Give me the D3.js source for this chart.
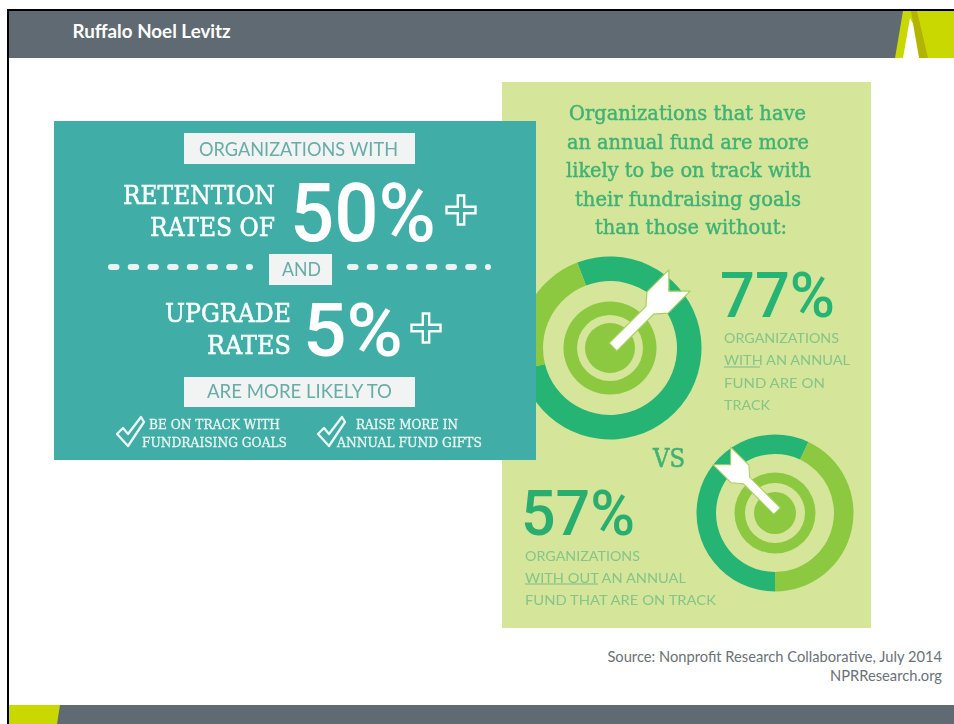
<!DOCTYPE html>
<html>
<head>
<meta charset="utf-8">
<title>Ruffalo Noel Levitz</title>
<script src="https://cdn.jsdelivr.net/npm/d3@7"></script>
<style>
  html, body { margin: 0; background: #fff; }
  svg { display: block; }
</style>
</head>
<body>
<svg id="slide" width="954" height="724"></svg>
<script>
// Slide content
const slideTitle = "Ruffalo Noel Levitz";
const sourceLines = ["Source: Nonprofit Research Collaborative, July 2014", "NPRResearch.org"];

// Retention and upgrade thresholds
const retentionRate = 50;
const upgradeRate = 5;
const retentionLabel = ["RETENTION", "RATES OF"];
const upgradeLabel = ["UPGRADE", "RATES"];
const benefitOne = ["BE ON TRACK WITH", "FUNDRAISING GOALS"];
const benefitTwo = ["RAISE MORE IN", "ANNUAL FUND GIFTS"];

// Annual fund comparison: share on track, share not on track
const withFund = [77, 23];
const withoutFund = [57, 43];
const fundHeading = [
  "Organizations that have",
  "an annual fund are more",
  "likely to be on track with",
  "their fundraising goals",
  "than those without:"
];
const withFundNote = ["ORGANIZATIONS", "WITH AN ANNUAL", "FUND ARE ON", "TRACK"];
const withoutFundNote = ["ORGANIZATIONS", "WITH OUT AN ANNUAL", "FUND THAT ARE ON TRACK"];

const SLAB = "'DejaVu Serif', serif";
const ROUND = "Lato, sans-serif";
const FIGURE = "Roboto, sans-serif";
const DARK_GREEN = "#25b475";
const LIGHT_GREEN = "#8cc83f";
const LIME = "#c8d800";
const SLATE = "#5f6a72";

const svg = d3.select("#slide");

svg.append("defs").append("filter")
  .attr("id", "soft")
  .attr("x", "-2%").attr("y", "-2%").attr("width", "104%").attr("height", "104%")
  .append("feGaussianBlur").attr("stdDeviation", 0.55);

// Fitted text: baseline at y, spanning x0..x1. The slab face gets a hairline stroke for weight.
function fitted(g, str, x0, x1, y, size, font, fill, weight) {
  const t = g.append("text")
    .attr("x", x0).attr("y", y)
    .attr("textLength", x1 - x0)
    .attr("lengthAdjust", "spacingAndGlyphs")
    .attr("font-family", font)
    .attr("font-size", size)
    .attr("font-weight", weight || 400)
    .attr("fill", fill)
    .text(str);
  if (font === SLAB) t.attr("stroke", fill).attr("stroke-width", size * 0.022);
  return t;
}

function polygon(g, pts, fill) {
  return g.append("path").attr("d", d3.line()(pts) + "Z").attr("fill", fill);
}

/* ---------- slide frame ---------- */
const frame = svg.append("g");
frame.append("rect").attr("x", 7).attr("y", 9).attr("width", 947).attr("height", 2).attr("fill", "#000");
frame.append("rect").attr("x", 7).attr("y", 9).attr("width", 2).attr("height", 715).attr("fill", "#000");
frame.append("rect").attr("x", 9).attr("y", 11).attr("width", 945).attr("height", 47).attr("fill", SLATE);
frame.append("rect").attr("x", 9).attr("y", 705).attr("width", 945).attr("height", 19).attr("fill", SLATE);

polygon(frame, [[903, 11], [954, 11], [954, 58], [895, 58]], LIME);
polygon(frame, [[911, 11], [917, 11], [928, 58], [919, 58]], "#b3b400");
polygon(frame, [[910, 18], [913, 24], [919, 58], [903, 58]], "#fff");
polygon(frame, [[9, 705], [60, 705], [57, 724], [9, 724]], LIME);

frame.append("text")
  .attr("x", 72.5).attr("y", 38)
  .attr("font-family", ROUND).attr("font-weight", 700).attr("font-size", 18.8)
  .attr("fill", "#fff").text(slideTitle);

frame.selectAll("text.source").data(sourceLines).join("text")
  .attr("class", "source")
  .attr("x", 942).attr("y", (d, i) => 662 + i * 19)
  .attr("text-anchor", "end")
  .attr("font-family", ROUND).attr("font-size", 14.7)
  .attr("fill", "#6b7177").text(d => d);

/* ---------- annual fund panel ---------- */
const fundPanel = svg.append("g").attr("filter", "url(#soft)");
fundPanel.append("rect")
  .attr("x", 502).attr("y", 82).attr("width", 369).attr("height", 546)
  .attr("fill", "#d5e59a");

const headingSpans = [[569, 806], [567, 809], [566, 811], [575, 801], [595, 787]];
fundHeading.forEach((line, i) => {
  fitted(fundPanel, line, headingSpans[i][0], headingSpans[i][1], 120 + i * 28.5, 21, SLAB, "#3fb274");
});

// Target rings: the outer ring is split by the on-track share
function target(g, cx, cy, values, startDeg, r, scale, mirror) {
  const t = g.append("g").attr("transform", `translate(${cx},${cy})`);
  const start = startDeg * Math.PI / 180;
  const pie = d3.pie().sort(null).startAngle(start).endAngle(start + 2 * Math.PI);
  const arc = d3.arc().innerRadius(r.ringIn).outerRadius(r.ringOut);
  t.selectAll("path.share").data(pie(values)).join("path")
    .attr("class", "share")
    .attr("d", arc)
    .attr("fill", (d, i) => i === 0 ? DARK_GREEN : LIGHT_GREEN);
  t.append("path")
    .attr("d", d3.arc().innerRadius(r.midIn).outerRadius(r.midOut).startAngle(0).endAngle(2 * Math.PI)())
    .attr("fill", LIGHT_GREEN);
  t.append("circle").attr("r", r.eye).attr("fill", LIGHT_GREEN);

  // Arrow outline in its own axis: along the shaft from the point to the notch
  const shape = [[0, -5.5], [52, -5.5], [63, -15], [94, -15], [79, 0], [94, 15], [63, 15], [52, 5.5], [0, 5.5]];
  const dir = mirror ? 225 : -45;
  const ox = mirror ? 2 : 3, oy = mirror ? -2 : -1;
  t.append("path")
    .attr("transform", `translate(${ox},${oy}) rotate(${dir}) scale(${scale})`)
    .attr("d", d3.line()(shape) + "Z")
    .attr("fill", "#fff")
    .attr("stroke", "#a8cf5a").attr("stroke-width", 1.2).attr("stroke-linejoin", "round");
}

target(fundPanel, 610, 348, withFund, -21,
  { ringIn: 67, ringOut: 91.5, midIn: 33, midOut: 46.5, eye: 25 }, 1, false);
target(fundPanel, 775, 513, withoutFund, 180,
  { ringIn: 59, ringOut: 78.5, midIn: 30, midOut: 40.5, eye: 21 }, 0.83, true);

fitted(fundPanel, withFund[0] + "%", 720, 835, 317, 63, FIGURE, DARK_GREEN, 500);
fitted(fundPanel, withoutFund[0] + "%", 521, 635, 535, 63, FIGURE, "#2cae70", 500);

fitted(fundPanel, "VS", 653, 685, 467, 26, SLAB, "#3fb274");

const NOTE = "#85c588";
const noteOneEnds = [839, 850, 825, 770];
withFundNote.forEach((line, i) => {
  fitted(fundPanel, line, 724, noteOneEnds[i], 343 + i * 22.3, 14, ROUND, NOTE);
});
const noteTwoEnds = [640, 686, 716];
withoutFundNote.forEach((line, i) => {
  fitted(fundPanel, line, 525, noteTwoEnds[i], 561 + i * 22, 14, ROUND, NOTE);
});
fundPanel.append("line").attr("x1", 724).attr("x2", 760).attr("y1", 367).attr("y2", 367).attr("stroke", "#7fb98a").attr("stroke-width", 1);
fundPanel.append("line").attr("x1", 525).attr("x2", 598).attr("y1", 584).attr("y2", 584).attr("stroke", "#7fb98a").attr("stroke-width", 1);

/* ---------- retention and upgrade panel ---------- */
const ratePanel = svg.append("g").attr("filter", "url(#soft)");
ratePanel.append("rect")
  .attr("x", 54).attr("y", 121).attr("width", 482).attr("height", 339)
  .attr("fill", "#3fada6");

const BOX = "#f2f4f3";
const BOX_TEXT = "#67aca8";
function labelBox(x, y, w, h, str, tx0, tx1, base) {
  ratePanel.append("rect").attr("x", x).attr("y", y).attr("width", w).attr("height", h).attr("fill", BOX);
  fitted(ratePanel, str, tx0, tx1, base, 19, ROUND, BOX_TEXT);
}
labelBox(184, 133, 231, 31, "ORGANIZATIONS WITH", 199, 398, 156);
labelBox(269, 254, 63, 31, "AND", 282, 321, 276);
labelBox(184, 377, 231, 30, "ARE MORE LIKELY TO", 207, 392, 398);

const WHITE = "#fbfdfc";
fitted(ratePanel, retentionLabel[0], 123, 275, 204, 26, SLAB, WHITE);
fitted(ratePanel, retentionLabel[1], 150, 275, 236, 26, SLAB, WHITE);
fitted(ratePanel, upgradeLabel[0], 165, 291, 322, 26, SLAB, WHITE);
fitted(ratePanel, upgradeLabel[1], 207, 291, 354, 26, SLAB, WHITE);

fitted(ratePanel, retentionRate + "%", 290, 436, 241, 82, FIGURE, "#fff", 500);
fitted(ratePanel, upgradeRate + "%", 303, 403, 356, 75, FIGURE, "#fff", 500);

// Outlined plus signs with a narrow hollow core
function plus(cx, cy) {
  const a = 14.5, b = 3.2;
  const pts = [[-b, -a], [b, -a], [b, -b], [a, -b], [a, b], [b, b], [b, a], [-b, a], [-b, b], [-a, b], [-a, -b], [-b, -b]];
  ratePanel.append("path")
    .attr("transform", `translate(${cx},${cy})`)
    .attr("d", d3.line()(pts) + "Z")
    .attr("fill", "none").attr("stroke", WHITE).attr("stroke-width", 2.4);
}
plus(461, 210);
plus(426, 328);

// Dotted rules either side of AND
[[111, 250], [350, 488]].forEach(([a, b]) => {
  ratePanel.append("line")
    .attr("x1", a).attr("x2", b).attr("y1", 267).attr("y2", 267)
    .attr("stroke", "#e9f3f1").attr("stroke-width", 6).attr("stroke-linecap", "round")
    .attr("stroke-dasharray", "5.5 14.2");
});

// Outlined check marks
function check(x, y) {
  const pts = [[0, 17], [6, 11], [11, 17], [24, 0], [27, 5], [11, 29]];
  ratePanel.append("path")
    .attr("transform", `translate(${x},${y})`)
    .attr("d", d3.line()(pts) + "Z")
    .attr("fill", "none").attr("stroke", "#eef6f4").attr("stroke-width", 2.3).attr("stroke-linejoin", "round");
}
check(117, 417);
check(318, 417);

fitted(ratePanel, benefitOne[0], 149, 280, 429, 12.5, SLAB, "#eef6f4");
fitted(ratePanel, benefitOne[1], 142, 287, 447, 12.5, SLAB, "#eef6f4");
fitted(ratePanel, benefitTwo[0], 356, 458, 429, 12.5, SLAB, "#eef6f4");
fitted(ratePanel, benefitTwo[1], 337, 482, 447, 12.5, SLAB, "#eef6f4");
</script>
</body>
</html>
